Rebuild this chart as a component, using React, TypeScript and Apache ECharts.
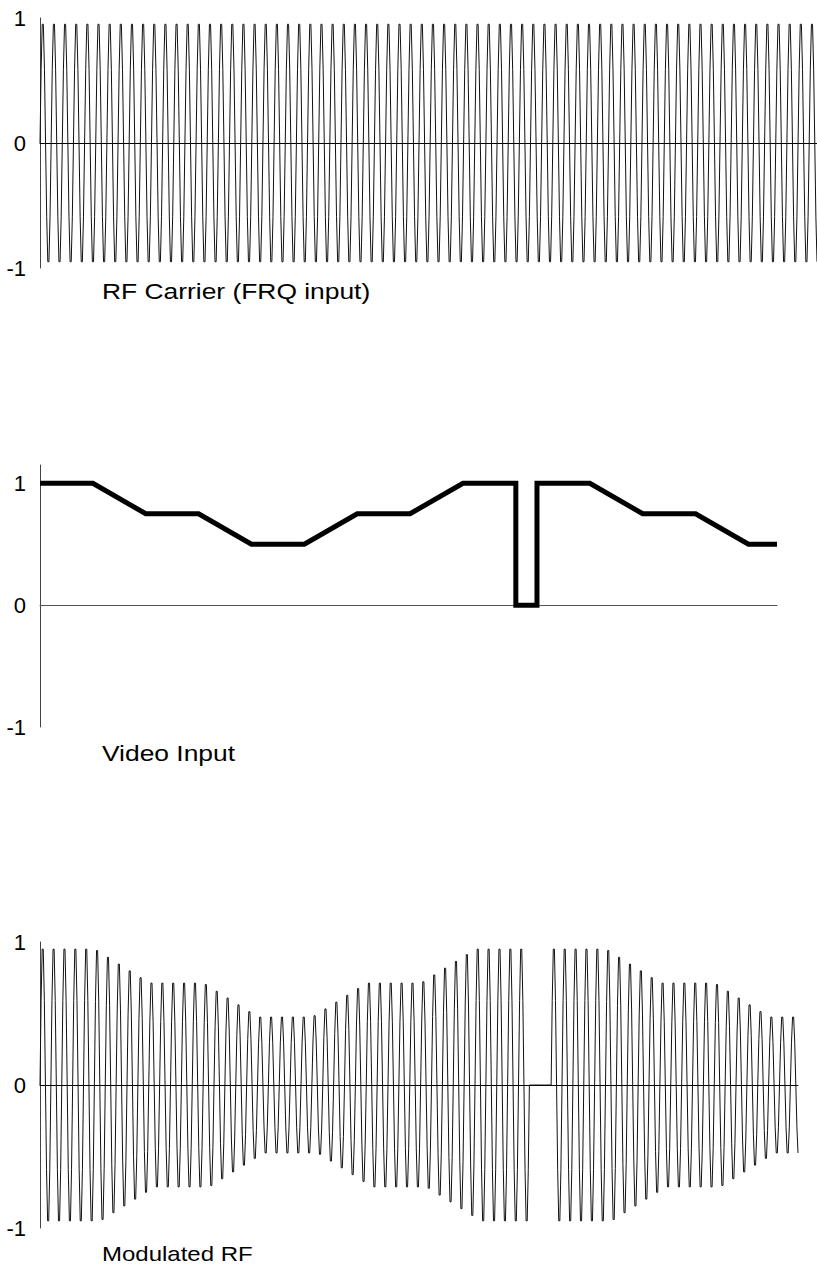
import React, { useEffect, useRef } from "react";
import * as echarts from "echarts";

const FONT = "'Liberation Sans', Arial, sans-serif";

// one carrier cycle, 10 samples
const carrierCycle = [0, 0.59, 0.95, 0.95, 0.59, 0, -0.59, -0.95, -0.95, -0.59];
const sampleCount = 698;

// video input breakpoints (x in samples, y in level)
const videoX = [0, 50, 100, 150, 200, 250, 300, 350, 400, 450, 450, 470, 470, 520, 570, 620, 670, 697];
const videoY = [1, 1, 0.75, 0.75, 0.5, 0.5, 0.75, 0.75, 1, 1, 0, 0, 1, 1, 0.75, 0.75, 0.5, 0.5];

// modulated RF amplitude per carrier cycle (70 cycles)
const envelope = [
  1, 1, 1, 1, 1,
  0.99, 0.94, 0.89, 0.84, 0.79,
  0.75, 0.75, 0.75, 0.75, 0.75,
  0.74, 0.69, 0.64, 0.59, 0.54,
  0.5, 0.5, 0.5, 0.5, 0.5,
  0.51, 0.56, 0.61, 0.66, 0.71,
  0.75, 0.75, 0.75, 0.75, 0.75,
  0.76, 0.81, 0.86, 0.91, 0.96,
  1, 1, 1, 1, 1,
  0, 0,
  1, 1, 1, 1, 1,
  0.99, 0.94, 0.89, 0.84, 0.79,
  0.75, 0.75, 0.75, 0.75, 0.75,
  0.74, 0.69, 0.64, 0.59, 0.54,
  0.5, 0.5, 0.5,
];

const tickLabels = ["-1", "0", "1"];
const titles = ["RF Carrier (FRQ input)", "Video Input", "Modulated RF"];

export default function App() {
  const ref = useRef<HTMLDivElement>(null);
  useEffect(() => {
    document.body.style.margin = "0";
    const chart = echarts.init(ref.current!, undefined, { renderer: "svg" });

    const carrierData: number[][] = [];
    const modData: number[][] = [];
    for (let i = 0; i < sampleCount; i++) {
      const c = carrierCycle[i % carrierCycle.length];
      carrierData.push([i, c]);
      modData.push([i, c * envelope[Math.floor(i / carrierCycle.length)]]);
    }
    const videoData = videoX.map((x, i) => [x, videoY[i]]);

    const grids = [
      { left: 40, top: 18, width: 777, height: 250 },
      { left: 40, top: 465, width: 737, height: 262 },
      { left: 40, top: 942, width: 758, height: 286 },
    ];
    const yMax = [1, 1.15, 1];

    const xAxis = grids.map((_, i) => ({
      type: "value",
      gridIndex: i,
      min: 0,
      max: sampleCount - 1,
      axisLine: { show: true, onZero: true, lineStyle: { color: i === 1 ? "#555" : "#000", width: 1 } },
      axisTick: { show: false },
      axisLabel: { show: false },
      splitLine: { show: false },
    }));
    const yAxis = grids.map((_, i) => ({
      type: "value",
      gridIndex: i,
      min: -1,
      max: yMax[i],
      interval: 1,
      axisLine: { show: true, lineStyle: { color: "#444", width: 1 } },
      axisTick: { show: false },
      splitLine: { show: false },
      axisLabel: {
        show: true,
        margin: 14,
        fontSize: 22,
        fontFamily: FONT,
        color: "#000",
        showMaxLabel: i !== 1,
        formatter: (v: number) => (tickLabels.includes(String(v)) ? String(v) : ""),
      },
    }));

    const titleY = [291, 753, 1254];
    const titleSize = [22, 22, 20];

    chart.setOption({
      animation: false,
      grid: grids,
      xAxis,
      yAxis,
      series: [
        {
          type: "line",
          xAxisIndex: 0,
          yAxisIndex: 0,
          data: carrierData,
          showSymbol: false,
          symbol: "none",
          lineStyle: { color: "#111", width: 1 },
        },
        {
          type: "line",
          xAxisIndex: 1,
          yAxisIndex: 1,
          data: videoData,
          showSymbol: false,
          symbol: "none",
          lineStyle: { color: "#000", width: 5, join: "miter", cap: "butt" },
        },
        {
          type: "line",
          xAxisIndex: 2,
          yAxisIndex: 2,
          data: modData,
          showSymbol: false,
          symbol: "none",
          lineStyle: { color: "#111", width: 1 },
        },
      ],
      graphic: titles.map((t, i) => ({
        type: "text",
        x: 102,
        y: titleY[i],
        scaleX: 1.2,
        style: {
          text: t,
          fontSize: titleSize[i],
          fontFamily: FONT,
          fill: "#000",
          verticalAlign: "middle",
        },
      })),
    });
    return () => chart.dispose();
  }, []);
  return (
    <div
      ref={ref}
      style={{ position: "absolute", left: 0, top: 0, width: 817, height: 1272, background: "#fff" }}
    />
  );
}
